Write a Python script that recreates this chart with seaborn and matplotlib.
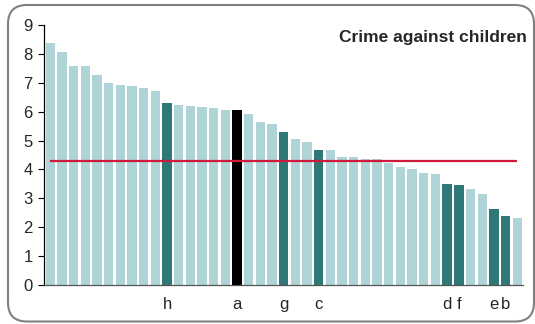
import numpy as np
import pandas as pd
import matplotlib
matplotlib.use("Agg")
import matplotlib.pyplot as plt
import seaborn as sns
from matplotlib.patches import FancyBboxPatch
from matplotlib.transforms import IdentityTransform

# values, sorted high to low
rates = [8.39, 8.08, 7.59, 7.57, 7.28, 6.98, 6.92, 6.90, 6.83, 6.71,
         6.30, 6.23, 6.21, 6.17, 6.11, 6.07, 6.07, 5.93, 5.64, 5.57,
         5.30, 5.07, 4.94, 4.67, 4.67, 4.42, 4.42, 4.36, 4.36, 4.24,
         4.09, 4.01, 3.88, 3.83, 3.49, 3.45, 3.32, 3.16, 2.64, 2.38, 2.32]
# letter labels under highlighted bars ('' = none)
letters = [''] * 41
for i, s in {10: 'h', 16: 'a', 20: 'g', 23: 'c', 34: 'd', 35: 'f', 38: 'e', 39: 'b'}.items():
    letters[i] = s
# group: 'own' is the black bar, 'peer' the dark teal ones
group = ['other'] * 41
for i in [10, 20, 23, 34, 35, 38, 39]:
    group[i] = 'peer'
group[16] = 'own'
average = 4.28
title = "Crime against children"

df = pd.DataFrame({"pos": range(len(rates)), "rate": rates, "group": group})
colour_map = {"other": "#aed4d7", "peer": "#2f7878", "own": "#000000"}

sns.set_style("white")
plt.rcParams['font.family'] = ['Liberation Sans', 'DejaVu Sans']

fig = plt.figure(figsize=(5.35, 3.24), dpi=100)
ax = fig.add_axes([0.0822, 0.1204, 0.8954, 0.8024])

sns.barplot(data=df, x="pos", y="rate", hue="group", palette=colour_map,
            dodge=False, width=0.8, saturation=1, linewidth=0,
            legend=False, ax=ax)

ax.hlines(average, 0, len(rates) - 1, color="#d01c3c", linewidth=1.6, zorder=5)

ax.set_xlim(-0.55, len(rates) - 0.5)
ax.set_ylim(0, 9)
ax.set_yticks(range(10))
ax.set_xticks(range(len(rates)))
ax.set_xticklabels(letters, fontsize=12)
ax.tick_params(axis="x", length=0, pad=9)
ax.tick_params(axis="y", direction="out", length=4, width=0.8, labelsize=12,
               pad=4, left=True, color="black")
ax.set_xlabel("")
ax.set_ylabel("")
for side in ["top", "right"]:
    ax.spines[side].set_visible(False)
ax.spines["left"].set_color("black")
ax.spines["left"].set_linewidth(0.9)
ax.spines["bottom"].set_color("#555555")
ax.spines["bottom"].set_linewidth(0.9)

ax.text(1.008, 0.952, title, transform=ax.transAxes, ha="right", va="center",
        fontsize=12.5, fontweight="bold")

# rounded grey frame around the figure
frame = FancyBboxPatch((8, 2.5), 526, 316.5,
                       boxstyle="round,pad=0,rounding_size=19",
                       transform=IdentityTransform(), facecolor="none",
                       edgecolor="#808080", linewidth=1.5)
fig.add_artist(frame)

fig.savefig("out.png", dpi=100)
